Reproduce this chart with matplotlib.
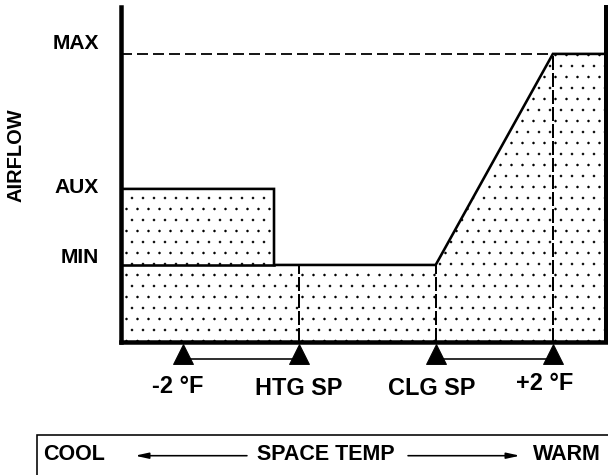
"""Airflow vs space temperature control sequence (VAV box with aux heat)."""

import matplotlib

matplotlib.use("Agg")
import matplotlib.pyplot as plt
from matplotlib.patches import FancyArrowPatch, Rectangle

W, H, DPI = 608, 475, 66

# temperature axis, in °F relative to the heating set point
x_left, x_right = -3.08, 5.32
temp_ticks = [-2.0, 0.0, 2.37, 4.4]
tick_labels = ["-2 °F", "HTG SP", "CLG SP", "+2 °F"]
aux_end = -0.43

# airflow levels (percent of axis height)
level_names = ["MIN", "AUX", "MAX"]
level_values = [23.0, 45.7, 86.0]
AF_MIN, AF_AUX, AF_MAX = level_values
HTG, CLG, PLUS2 = temp_ticks[1], temp_ticks[2], temp_ticks[3]

curve_x = [x_left, aux_end, aux_end, CLG, PLUS2, x_right]
curve_y = [AF_AUX, AF_AUX, AF_MIN, AF_MIN, AF_MAX, AF_MAX]

plt.rcParams["font.family"] = ["Liberation Sans", "DejaVu Sans"]
plt.rcParams["font.weight"] = "bold"
plt.rcParams["hatch.linewidth"] = 0.3
plt.rcParams["lines.scale_dashes"] = False


def px(n):
    """pixels -> points at this dpi"""
    return n * 72.0 / DPI


def fx(x):
    return x / W


def fy(y):
    return 1 - y / H


fig = plt.figure(figsize=(W / DPI, H / DPI), dpi=DPI)
ax_l, ax_r, ax_t, ax_b = 121, 606, 7, 342
ax = fig.add_axes([fx(ax_l), fy(ax_b), (ax_r - ax_l) / W, (ax_b - ax_t) / H])
ax.set_xlim(x_left, x_right)
ax.set_ylim(0, 100)
ax.set_xticks([])
ax.set_yticks([])
ax.spines["top"].set_visible(False)
for side in ["left", "bottom", "right"]:
    ax.spines[side].set_linewidth(px(4.5))
    ax.spines[side].set_capstyle("projecting")
ax.spines["right"].set_linewidth(px(4))

# stippled area under the airflow curve
ax.fill_between(curve_x, 0, curve_y, facecolor="white", edgecolor="black",
                linewidth=0, hatch=".", zorder=1)
ax.plot(curve_x, curve_y, color="black", lw=px(2.6), zorder=3,
        solid_joinstyle="miter")
ax.plot([x_left, aux_end], [AF_MIN, AF_MIN], color="black", lw=px(2.6), zorder=3)

# dashed MAX reference and set-point guides
ax.plot([x_left, PLUS2], [AF_MAX, AF_MAX], color="black", lw=px(1.8),
        ls=(0, (px(11), px(5))), zorder=2)
ax.vlines([HTG, CLG], 0, AF_MIN, color="black", lw=px(2),
          ls=(0, (px(14), px(3))), zorder=2)
ax.vlines([PLUS2], 0, AF_MAX, color="black", lw=px(2),
          ls=(0, (px(14), px(3))), zorder=2)

# triangles under the axis and the ±2 °F brackets
tri_y = -(353.5 - ax_b) / (ax_b - ax_t)
bar_y = -(359 - ax_b) / (ax_b - ax_t)
trans = ax.get_xaxis_transform()
ax.plot(temp_ticks, [tri_y] * 4, ls="none", marker="^", ms=px(19.5),
        color="black", transform=trans, clip_on=False, zorder=5)
for a, b in [(temp_ticks[0], temp_ticks[1]), (temp_ticks[2], temp_ticks[3])]:
    ax.plot([a, b], [bar_y, bar_y], color="black", lw=px(1.6),
            transform=trans, clip_on=False, zorder=4)

label_dx = [-6, 0, -4, -8]
label_base = [393, 395, 395, 390]
for t, lab, dx, yb in zip(temp_ticks, tick_labels, label_dx, label_base):
    xp = ax_l + (t - x_left) / (x_right - x_left) * (ax_r - ax_l) + dx
    fig.text(fx(xp), fy(yb), lab, ha="center", va="baseline", fontsize=px(23.5),
             fontweight="bold")

# level labels on the left
level_nudge = [7, 1, 10]
for name, val, nudge in zip(level_names, level_values, level_nudge):
    yp = ax_b - val / 100 * (ax_b - ax_t) - nudge
    fig.text(fx(99), fy(yp), name, ha="right", va="center", fontsize=px(21),
             fontweight="bold")

fig.text(fx(16.5), fy(155), "AIRFLOW", rotation=90, ha="center", va="center",
         fontsize=px(20), fontweight="bold")

# space temp legend box
fig.patches.append(Rectangle((fx(37), -0.2), 1.0, fy(435) + 0.2,
                             transform=fig.transFigure, fill=False,
                             edgecolor="black", lw=px(1.6)))
fig.text(fx(43), fy(454.5), "COOL", ha="left", va="center", fontsize=px(21.5),
         fontweight="bold")
fig.text(fx(326), fy(454.5), "SPACE TEMP", ha="center", va="center",
         fontsize=px(21.5), fontweight="bold")
fig.text(fx(533), fy(454.5), "WARM", ha="left", va="center", fontsize=px(21.5),
         fontweight="bold")
for x0, x1 in [(247, 135), (408, 520)]:
    fig.patches.append(FancyArrowPatch(
        (fx(x0), fy(455.7)), (fx(x1), fy(455.7)), transform=fig.transFigure,
        arrowstyle="-|>,head_length=1.0,head_width=0.22", mutation_scale=12,
        color="black", lw=px(1.6), shrinkA=0, shrinkB=0))

fig.savefig("out.png", dpi=DPI)
